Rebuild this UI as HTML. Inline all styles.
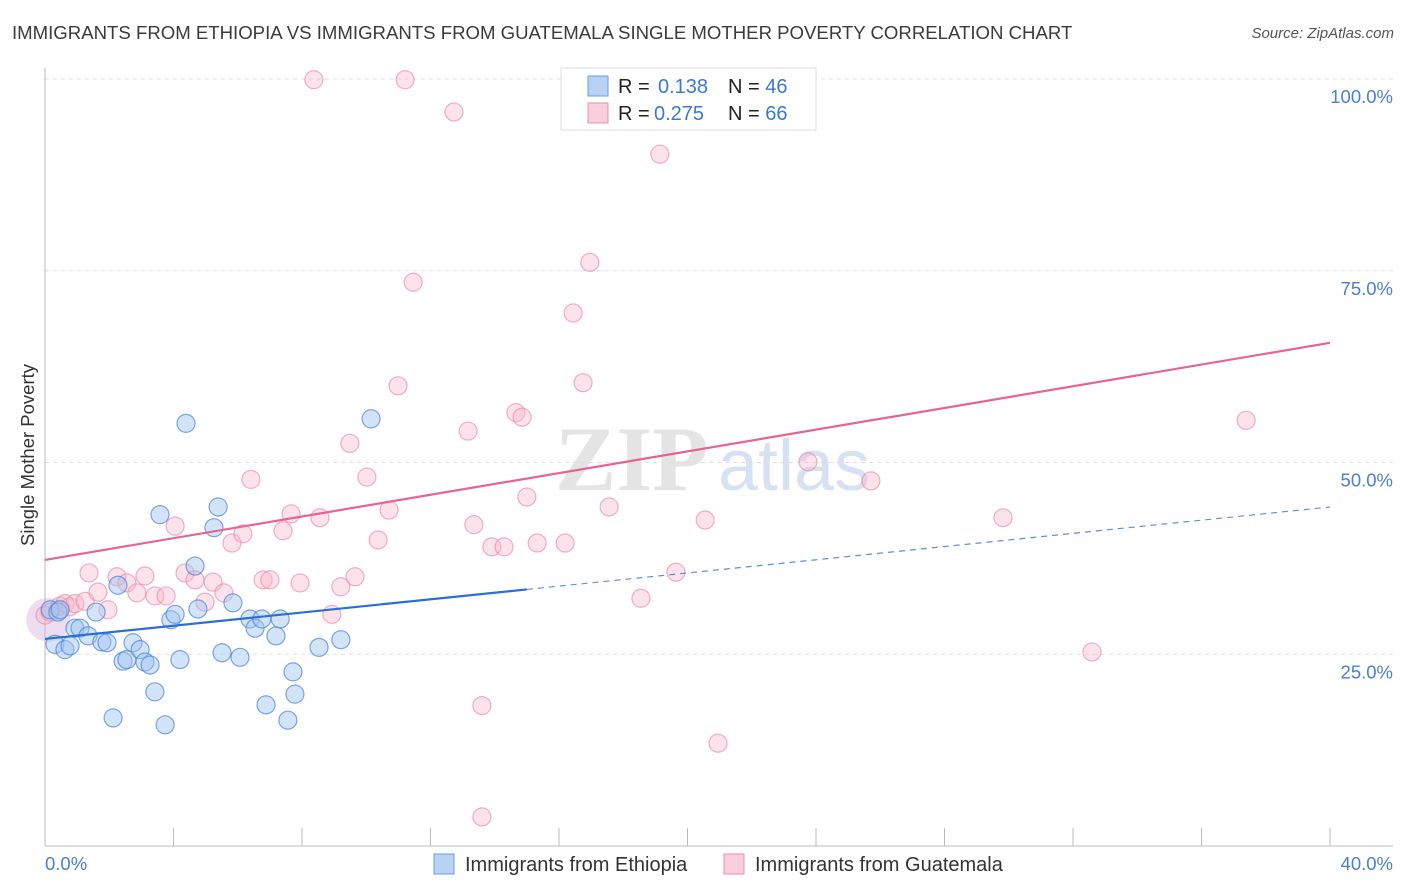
<!DOCTYPE html>
<html><head><meta charset="utf-8"><style>
body{margin:0;background:#fff;font-family:"Liberation Sans",sans-serif;}
#wrap{position:relative;width:1406px;height:892px;overflow:hidden;}
.t{position:absolute;white-space:nowrap;}
</style></head><body>
<div id="wrap">
<div class="t" style="left:12px;top:22px;font-size:18.6px;color:#3a3a3a;">IMMIGRANTS FROM ETHIOPIA VS IMMIGRANTS FROM GUATEMALA SINGLE MOTHER POVERTY CORRELATION CHART</div>
<div class="t" style="right:12px;top:25px;font-size:15px;color:#555;font-style:italic;">Source: ZipAtlas.com</div>
<svg id="plot" width="1406" height="892" style="position:absolute;left:0;top:0"></svg>
</div>
<script>
const yTicks=[25,50,75,100];
const xTickLabels=["0.0%","40.0%"];
const ethX=[0.16,0.31,0.62,0.78,0.40,0.47,0.93,1.09,1.34,1.59,1.77,1.93,2.12,2.27,2.43,2.55,2.74,2.96,3.11,3.27,3.42,3.58,3.74,3.92,4.05,4.20,4.39,4.67,4.76,5.26,5.39,5.51,5.85,6.07,6.38,6.54,6.75,6.88,7.19,7.32,7.56,7.72,7.78,8.53,9.21,10.15];
const ethY=[30.8,26.3,25.6,26.1,30.5,30.8,28.4,28.4,27.4,30.5,26.6,26.5,16.7,34.0,24.1,24.3,26.5,25.6,24.0,23.6,20.1,43.2,15.8,29.5,30.2,24.3,55.1,36.5,30.9,41.5,44.2,25.2,31.7,24.6,29.6,28.4,29.6,18.4,27.4,29.6,16.4,22.7,19.8,25.9,26.9,55.7];
const guaX=[0,0.16,0.47,0.62,0.78,0.93,1.25,1.37,1.65,1.96,2.24,2.55,2.86,3.11,3.42,3.77,4.05,4.36,4.67,4.98,5.23,5.57,5.82,6.16,6.41,6.79,7.00,7.41,7.66,7.94,8.56,8.93,9.21,9.49,9.65,10.02,10.37,10.71,10.99,11.21,11.46,8.37,12.73,13.17,13.35,13.60,13.91,14.29,14.66,14.85,15.00,15.32,16.19,16.44,16.75,16.96,17.56,18.55,19.14,19.64,20.55,20.95,23.75,25.71,29.82,32.59,37.39,13.60];
const guaY=[30.1,30.5,31.3,31.6,31.2,31.6,31.9,35.6,33.1,30.8,35.1,34.3,33.0,35.2,32.6,32.6,41.7,35.6,34.7,31.8,34.4,33.0,39.5,40.7,47.8,34.7,34.7,41.1,43.3,34.3,42.8,30.2,33.8,52.5,35.1,48.1,39.9,43.8,60.0,99.9,73.5,99.9,95.7,54.1,41.9,18.3,39.0,39.0,56.5,55.9,45.5,39.5,39.5,69.5,60.4,76.1,44.2,32.3,90.2,35.7,42.5,13.4,50.1,47.6,42.8,25.3,55.5,3.8];
const ethTrend=[27.0,44.2]; const ethSolidEnd=15.0;
const guaTrend=[37.3,65.6];

const NS="http://www.w3.org/2000/svg";
const svg=document.getElementById('plot');
const X0=45,X1=1330,Y0=846,Y100=79;
const sx=v=>X0+(v/40)*(X1-X0);
const sy=v=>Y0-(v/100)*(Y0-Y100);
function mk(tag,attrs,parent){const e=document.createElementNS(NS,tag);for(const k in attrs)e.setAttribute(k,attrs[k]);(parent||svg).appendChild(e);return e;}

let wm=mk('text',{x:555,y:490,'font-size':92,'font-family':'Liberation Serif, serif','font-weight':'bold',fill:'#e4e4e4'});


wm.textContent='ZIP';
let wm2=mk('text',{x:718,y:490,'font-size':72,'font-family':'Liberation Sans, sans-serif',fill:'#d6e2f3'});


wm2.textContent='atlas';

yTicks.forEach(v=>{
  const g=mk('line',{x1:X0,x2:1393,y1:sy(v),y2:sy(v),stroke:'#dddddd','stroke-dasharray':'4,4'});
  
  
  const t=mk('text',{x:1393,y:sy(v)+24,'text-anchor':'end','font-size':18.5,fill:'#4a7fd4','font-family':'Liberation Sans, sans-serif'});
  
  
  t.textContent=v.toFixed(1)+'%';
});
let ax=mk('line',{x1:X0,x2:X0,y1:68,y2:Y0,stroke:'#bbb'});


let bx=mk('line',{x1:X0,x2:1393,y1:Y0,y2:Y0,stroke:'#bbb'});


for(let i=0;i<=10;i++){
  const tk=mk('line',{x1:sx(i*4),x2:sx(i*4),y1:Y0-18,y2:Y0,stroke:'#bbb'});
  
  
}
[[0,45,'start'],[40,1393,'end']].forEach((p,i)=>{
  const t=mk('text',{x:p[1],y:870,'text-anchor':p[2],'font-size':18.5,fill:'#4a7fd4','font-family':'Liberation Sans, sans-serif'});
  
  
  t.textContent=xTickLabels[i];
});
let yt=mk('text',{x:34,y:455,'text-anchor':'middle','font-size':18.5,fill:'#333','font-family':'Liberation Sans, sans-serif',transform:'rotate(-90 34 455)'});


yt.textContent='Single Mother Poverty';

let bb=mk('circle',{cx:sx(0.1),cy:sy(29.5),r:22,fill:'rgba(215,180,225,0.45)',stroke:'none'});



guaX.forEach((x,i)=>{
  const c=mk('circle',{cx:sx(x),cy:sy(guaY[i]),r:9,fill:'rgba(248,182,202,0.4)',stroke:'rgba(232,135,165,0.65)','stroke-width':1.2});
  
  
});
ethX.forEach((x,i)=>{
  const c=mk('circle',{cx:sx(x),cy:sy(ethY[i]),r:9,fill:'rgba(160,195,240,0.45)',stroke:'rgba(70,130,220,0.7)','stroke-width':1.2});
  
  
});

const ethAt=v=>ethTrend[0]+(ethTrend[1]-ethTrend[0])*v/40;
let l1=mk('line',{x1:sx(0),y1:sy(guaTrend[0]),x2:sx(40),y2:sy(guaTrend[1]),stroke:'#e8648e','stroke-width':2.2});


let l2=mk('line',{x1:sx(0),y1:sy(ethAt(0)),x2:sx(ethSolidEnd),y2:sy(ethAt(ethSolidEnd)),stroke:'#2a6fd6','stroke-width':2.2});


let l3=mk('line',{x1:sx(ethSolidEnd),y1:sy(ethAt(ethSolidEnd)),x2:sx(40),y2:sy(ethAt(40)),stroke:'#5b8fdc','stroke-width':1.2,'stroke-dasharray':'6,5'});



let lg=mk('rect',{x:561,y:68,width:255,height:62,fill:'rgba(255,255,255,0.92)',stroke:'#dddddd'});


[[0.138,46,'rgba(160,195,240,0.75)','#6a9ee0',86],[0.275,66,'rgba(248,190,208,0.75)','#e890ac',113]].forEach((r,i)=>{
  const s=mk('rect',{x:588,y:r[4]-10,width:20,height:20,fill:r[2],stroke:r[3]});
  
  
  const t=mk('text',{x:618,y:r[4]+7,'font-size':20,fill:'#222','font-family':'Liberation Sans, sans-serif'});
  
  
  t.innerHTML='R = <tspan fill="#3a78d4" x="'+(i==0?658:654)+'">'+r[0].toFixed(3)+'</tspan><tspan x="728">N = </tspan><tspan fill="#3a78d4">'+r[1]+'</tspan>';
});

[['Immigrants from Ethiopia','rgba(160,195,240,0.75)','#6a9ee0',434],['Immigrants from Guatemala','rgba(248,190,208,0.75)','#e890ac',724]].forEach(r=>{
  const s=mk('rect',{x:r[3],y:854,width:20,height:20,fill:r[1],stroke:r[2]});
  
  
  const t=mk('text',{x:r[3]+31,y:871,'font-size':20,fill:'#333','font-family':'Liberation Sans, sans-serif'});
  
  
  t.textContent=r[0];
});
</script>
</body></html>
